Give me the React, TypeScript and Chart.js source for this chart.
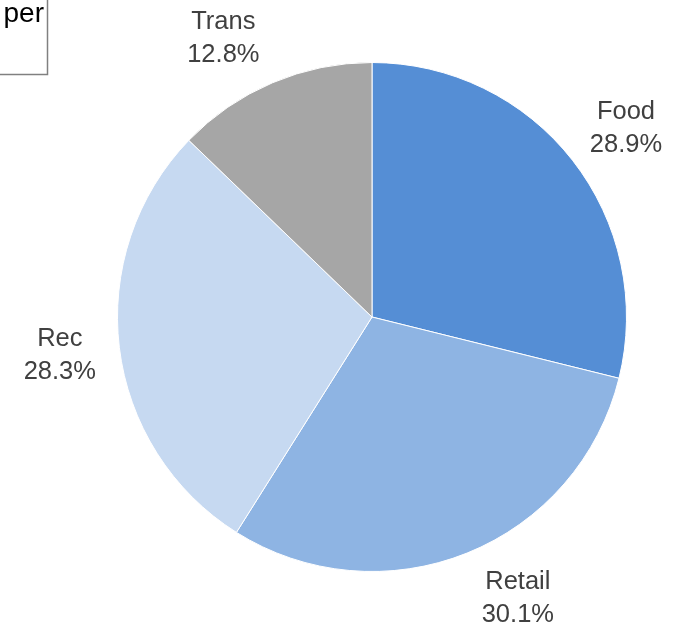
import React, { useEffect, useRef } from "react";
import { Chart, registerables } from "chart.js";

Chart.register(...registerables);

const categories = ["Food", "Retail", "Rec", "Trans"];
const values = [28.9, 30.1, 28.3, 12.8];
const colors = ["#558ED5", "#8EB4E3", "#C6D9F1", "#A6A6A6"];
const labelAngleNudge = [1.4, -5.5, 0, -5];
const boxText = "per";

const labelPlugin = {
  id: "outsideLabels",
  afterDatasetsDraw(chart: any) {
    const ctx = chart.ctx;
    const meta = chart.getDatasetMeta(0);
    const total = values.reduce((a, b) => a + b, 0);
    ctx.save();
    ctx.font = "25.5px 'Liberation Sans', Arial, sans-serif";
    ctx.fillStyle = "#404040";
    ctx.textAlign = "center";
    ctx.textBaseline = "middle";
    meta.data.forEach((arc: any, i: number) => {
      const { x, y, startAngle, endAngle, outerRadius } = arc.getProps(
        ["x", "y", "startAngle", "endAngle", "outerRadius"],
        true
      );
      const mid = (startAngle + endAngle) / 2 + (labelAngleNudge[i] * Math.PI) / 180;
      const r = outerRadius + 62;
      const cx = x + Math.cos(mid) * r + (i === 2 ? 2 : 0);
      const cy = y + Math.sin(mid) * r;
      const pct = ((values[i] / total) * 100).toFixed(1) + "%";
      ctx.fillText(categories[i], cx, cy - 16);
      ctx.fillText(pct, cx, cy + 17);
    });
    ctx.restore();
  },
};

const boxPlugin = {
  id: "cornerBox",
  afterDraw(chart: any) {
    const ctx = chart.ctx;
    ctx.save();
    ctx.fillStyle = "#ffffff";
    ctx.fillRect(-5, -5, 52.5, 79.5);
    ctx.strokeStyle = "#808080";
    ctx.lineWidth = 1.5;
    ctx.strokeRect(-5, -5, 52.5, 79.5);
    ctx.fillStyle = "#000000";
    ctx.font = "28px 'Liberation Sans', Arial, sans-serif";
    ctx.textAlign = "left";
    ctx.textBaseline = "alphabetic";
    ctx.fillText(boxText, 3.5, 22);
    ctx.restore();
  },
};

export default function App() {
  const ref = useRef<HTMLCanvasElement | null>(null);
  useEffect(() => {
    if (!ref.current) return;
    const chart = new Chart(ref.current, {
      type: "pie",
      data: {
        labels: categories,
        datasets: [
          {
            data: values,
            backgroundColor: colors,
            borderColor: "#ffffff",
            borderWidth: 1,
          },
        ],
      },
      options: {
        responsive: false,
        animation: false,
        layout: { padding: { left: 117, right: 46, top: 62, bottom: 55 } },
        plugins: {
          legend: { display: false },
          tooltip: { enabled: false },
        },
      },
      plugins: [labelPlugin, boxPlugin],
    });
    return () => chart.destroy();
  }, []);
  return (
    <div style={{ position: "fixed", left: 0, top: 0, width: 673, height: 627, background: "#fff" }}>
      <canvas ref={ref} width={673} height={627} style={{ display: "block" }} />
    </div>
  );
}
